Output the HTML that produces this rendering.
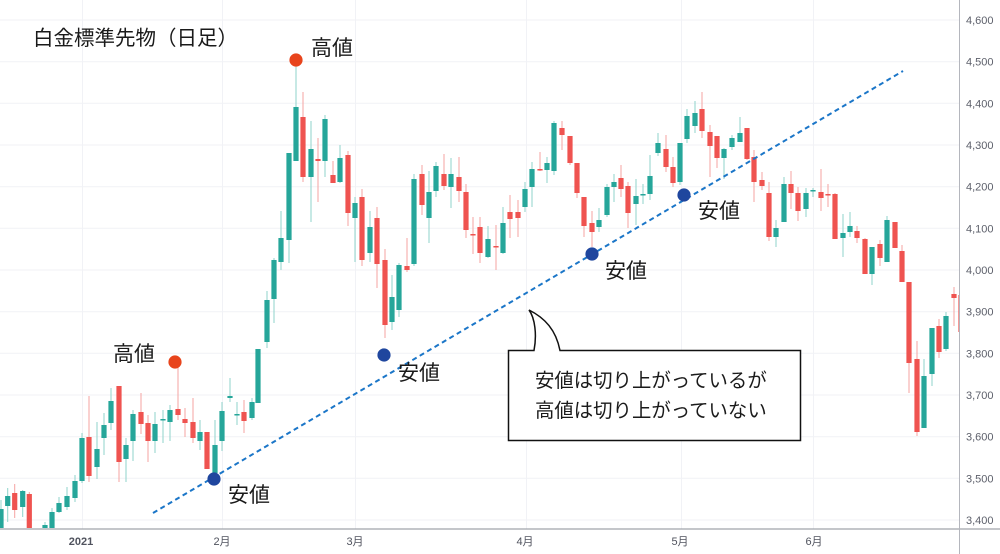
<!DOCTYPE html>
<html><head><meta charset="utf-8"><style>
html,body{margin:0;padding:0;background:#fff;}
svg{display:block;}
</style></head><body>
<svg id="c" width="1000" height="554" viewBox="0 0 1000 554" xmlns="http://www.w3.org/2000/svg">
<defs><clipPath id="cp"><rect x="0" y="0" width="959" height="528.5"/></clipPath></defs>
<rect width="1000" height="554" fill="#fff"/>
<g id="grid" stroke="#f1f2f6" stroke-width="1"></g>
<g id="candles" clip-path="url(#cp)"></g>
<line x1="153" y1="513" x2="903" y2="71" stroke="#1b76c8" stroke-width="2" stroke-dasharray="5 3.6"/>
<line x1="0" y1="529" x2="1000" y2="529" stroke="#8a8d96" stroke-width="1"/>
<line x1="959.5" y1="0" x2="959.5" y2="554" stroke="#b4b6bd" stroke-width="1"/>
<g id="ylab" font-family="Liberation Sans, sans-serif" font-size="11" fill="#5d606b"></g>
<g font-family="Liberation Sans, 'Noto Sans CJK JP', sans-serif" font-size="11" fill="#50535e" text-anchor="middle">
<text x="81" y="545" font-weight="bold">2021</text>
<text x="222" y="545">2月</text>
<text x="355" y="545">3月</text>
<text x="525" y="545">4月</text>
<text x="680" y="545">5月</text>
<text x="814" y="545">6月</text>
</g>
<g id="marks"></g>
<path d="M508.5,350.5 H534 C537,335 535,318 529,310 C545,318 556,330 560,350.5 H800.5 V440.5 H508.5 Z" fill="#fff" stroke="#111" stroke-width="1.5"/>
<g font-family="Liberation Sans, 'Noto Sans CJK JP', sans-serif" fill="#1a1a1a">
<text x="33" y="45" font-size="20.5">白金標準先物（日足）</text>
<text x="311" y="55" font-size="21">高値</text>
<text x="113" y="361" font-size="21">高値</text>
<text x="228" y="502" font-size="21">安値</text>
<text x="398" y="380" font-size="21">安値</text>
<text x="605" y="278" font-size="21">安値</text>
<text x="698" y="218" font-size="21">安値</text>
<text x="535" y="387" font-size="19.4">安値は切り上がっているが</text>
<text x="535" y="417" font-size="19.4">高値は切り上がっていない</text>
</g>
</svg>
<script>
(function(){
var NS="http://www.w3.org/2000/svg";
function el(t,a,p){var e=document.createElementNS(NS,t);for(var k in a)e.setAttribute(k,a[k]);p.appendChild(e);return e;}
var grid=document.getElementById('grid');
var ylab=document.getElementById('ylab');
for(var p=3400;p<=4600;p+=100){
  var y=520-(p-3400)*0.41667;
  el('line',{x1:0,y1:y.toFixed(1),x2:959,y2:y.toFixed(1)},grid);
  var t=el('text',{x:966,y:(y+4).toFixed(1)},ylab);
  t.textContent=(p/1000|0)+","+String(p%1000).padStart(3,"0");
}
[82,222,355,526,681,813].forEach(function(x){el('line',{x1:x+0.5,y1:0,x2:x+0.5,y2:529},grid);});
var d=[
[1,509,528,500,528,'g'],[7.7,496,506,488,522,'g'],[14.7,493,510,484,518,'r'],[22.7,491,507,490,517,'g'],[29.3,494,528,492,528,'r'],
[45,525,528,522,528,'g'],[52,512,528,508,528,'g'],[59,503,512,497,513,'g'],[67,496,507,487,510,'g'],[75,481,498,475,502,'g'],
[82,438,481,433,483,'g'],[89,437,476,396,482,'r'],[97,449,467,422,479,'g'],[104,425,438,413,455,'g'],[111,401,423,388,430,'g'],
[119,386,462,386,482,'r'],[126,445,459,438,482,'g'],[133,414,441,410,461,'g'],[141,412,424,393,434,'r'],[148,423,441,415,462,'r'],
[155,424,441,412,453,'g'],[163,419,420,410,443,'g'],[170,410,422,405,441,'g'],[178,409,415,362,420,'r'],[185,419,423,408,437,'r'],
[193,422,438,398,443,'r'],[200,432,441,420,450,'g'],[207,432,469,432,469,'r'],[215,445,473,420,478,'g'],[222,411,441,402,451,'g'],
[230,396,398,378,402,'g'],[237,414,415,402,425,'g'],[244,412,421,400,433,'r'],[252,402,418,398,420,'g'],[258,349,403,349,403,'g'],
[267,300,342,291,348,'g'],[274,260,299,258,323,'g'],[281,238,262,211,270,'g'],[289,153,240,153,263,'g'],[296,107,161,60,161,'g'],
[303,117,177,92,182,'r'],[311,149,177,121,222,'g'],[318,159,161,138,202,'r'],[325,119,161,115,177,'g'],[333,175,183,161,183,'r'],
[340,158,182,145,183,'g'],[348,155,213,151,226,'r'],[355,203,218,197,262,'g'],[362,197,260,189,266,'r'],[370,227,253,211,262,'g'],
[377,218,264,207,288,'r'],[385,260,325,249,338,'r'],[392,297,322,275,330,'g'],[399,265,310,263,317,'g'],[407,266,270,238,272,'r'],
[414,179,264,174,266,'g'],[422,174,205,165,215,'r'],[429,192,218,171,243,'g'],[436,166,191,162,197,'g'],[444,174,186,154,190,'r'],
[451,174,187,158,208,'g'],[459,177,191,157,202,'r'],[466,192,230,184,238,'r'],[473,234,235,217,254,'r'],[480,227,253,217,263,'r'],
[488,239,257,226,258,'g'],[496,246,247,225,270,'r'],[503,223,253,207,254,'g'],[510,212,219,195,238,'r'],[518,212,218,200,237,'r'],
[525,189,207,182,212,'g'],[532,169,187,162,207,'g'],[540,169,170,152,171,'r'],[547,163,170,157,183,'g'],[554,123,171,121,175,'g'],
[562,128,135,121,150,'r'],[570,136,163,136,165,'r'],[577,163,193,163,198,'r'],[584,197,226,197,237,'r'],[592,223,232,211,247,'r'],
[599,220,227,208,232,'g'],[607,187,215,184,217,'g'],[614,182,187,174,202,'g'],[621,178,189,165,197,'r'],[628,186,213,182,228,'r'],
[636,196,204,179,225,'g'],[643,194,195,184,204,'g'],[650,176,194,155,200,'g'],[658,143,153,133,156,'g'],[666,149,167,135,172,'r'],
[673,167,183,157,187,'r'],[680,143,182,143,185,'g'],[687,116,139,109,143,'g'],[695,113,126,101,133,'g'],[702,109,131,92,138,'r'],
[710,132,146,125,177,'r'],[717,136,158,136,168,'r'],[724,149,158,148,179,'g'],[732,138,147,135,150,'g'],[740,133,142,117,142,'g'],
[747,128,159,128,160,'r'],[754,157,182,150,202,'r'],[762,180,186,172,190,'r'],[769,193,237,182,241,'r'],[776,228,237,220,247,'g'],
[784,184,222,177,222,'g'],[791,184,193,171,209,'r'],[798,193,211,187,221,'r'],[806,193,209,188,217,'g'],[813,190,191,188,197,'g'],
[821,192,198,169,211,'r'],[828,194,195,184,207,'r'],[835,194,239,193,239,'r'],[843,233,238,214,257,'g'],[850,226,232,212,237,'g'],
[857,231,238,226,243,'r'],[865,239,274,238,274,'r'],[872,247,274,247,285,'g'],[880,244,258,240,266,'r'],[887,220,262,216,262,'g'],
[895,222,248,222,248,'r'],[902,251,282,245,282,'r'],[909,282,363,282,393,'r'],[917,359,432,341,436,'r'],[924,376,428,359,428,'g'],
[932,328,374,328,386,'g'],[939,326,352,319,358,'r'],[946,316,349,312,351,'g'],[954,294,298,287,326,'r'],[961,295,332,290,332,'r']
];
var cg=document.getElementById('candles');
d.forEach(function(c){
  var col=c[5]=='g'?'#26a69a':'#ef5350';
  var wc=c[5]=='g'?'#8fd3cb':'#f5a3a1';
  el('rect',{x:(c[0]-0.5).toFixed(1),y:c[3],width:1,height:Math.max(1,c[4]-c[3]),fill:wc},cg);
  var h=Math.max(1.5,c[2]-c[1]);
  el('rect',{x:(c[0]-2.6).toFixed(1),y:c[1],width:5.2,height:h,fill:col},cg);
});
var m=document.getElementById('marks');
[[296,60,'#e8441c'],[175,362,'#e8441c'],[214,479,'#1f469e'],[384,355,'#1f469e'],[592,254,'#1f469e'],[684,195,'#1f469e']].forEach(function(k){
  el('circle',{cx:k[0],cy:k[1],r:6.6,fill:k[2]},m);
});
})();
</script>
</body></html>
